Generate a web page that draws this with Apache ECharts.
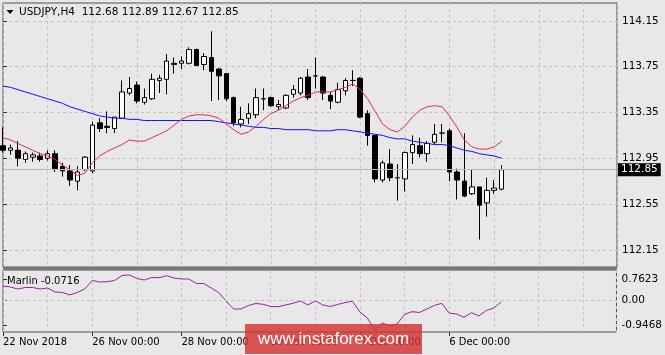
<!DOCTYPE html>
<html><head><meta charset="utf-8">
<script src="https://cdn.jsdelivr.net/npm/echarts@6/dist/echarts.min.js"></script>
<style>html,body{margin:0;padding:0;background:#e8e8e8;} #c{width:665px;height:355px;}</style>
</head><body><div id="c"></div>
<script>
const symbol = 'USDJPY,H4';
const open = [113.06,113.02,113.02,112.94,112.96,112.97,112.95,112.99,112.88,112.84,
  112.75,112.85,112.84,113.26,113.23,113.21,113.30,113.52,113.59,113.44,
  113.47,113.63,113.64,113.78,113.78,113.78,113.90,113.77,113.83,113.73,
  113.69,113.48,113.25,113.30,113.33,113.47,113.48,113.40,113.39,113.51,
  113.52,113.66,113.67,113.66,113.50,113.44,113.54,113.63,113.65,113.34,
  113.15,112.76,112.90,112.78,112.77,113.00,113.06,112.99,113.09,113.17,
  113.19,112.83,112.75,112.64,112.70,112.56,112.67,112.68];
const close = [113.02,113.04,112.95,112.99,112.98,112.94,112.99,112.86,112.84,112.76,
  112.83,112.96,113.24,113.21,113.22,113.31,113.53,113.56,113.45,113.48,
  113.64,113.65,113.80,113.77,113.80,113.90,113.76,113.84,113.71,113.67,
  113.47,113.26,113.29,113.34,113.48,113.47,113.41,113.42,113.50,113.55,
  113.65,113.48,113.67,113.52,113.45,113.55,113.63,113.63,113.31,113.15,
  112.77,112.91,112.78,112.78,113.00,113.07,112.99,113.08,113.16,113.17,
  112.83,112.76,112.62,112.70,112.54,112.67,112.69,112.85];
const high = [113.22,113.07,113.10,113.01,113.00,113.00,113.02,113.02,112.91,112.89,
  112.88,112.97,113.27,113.30,113.36,113.31,113.63,113.66,113.62,113.56,
  113.69,113.68,113.86,113.83,113.84,113.92,113.91,113.87,114.06,113.74,
  113.69,113.49,113.40,113.43,113.56,113.56,113.49,113.46,113.51,113.59,
  113.66,113.73,113.83,113.67,113.53,113.61,113.65,113.72,113.66,113.37,
  113.15,112.93,113.03,112.90,113.01,113.15,113.13,113.10,113.25,113.25,
  113.21,112.86,113.17,112.85,112.70,112.78,112.76,112.89];
const low = [113.00,112.98,112.88,112.91,112.92,112.92,112.93,112.83,112.79,112.71,
  112.67,112.84,112.82,113.18,113.17,113.17,113.30,113.50,113.43,113.42,
  113.46,113.52,113.51,113.69,113.73,113.77,113.76,113.72,113.45,113.46,
  113.45,113.23,113.22,113.25,113.30,113.37,113.40,113.37,113.38,113.48,
  113.50,113.46,113.56,113.46,113.38,113.43,113.50,113.58,113.30,113.06,
  112.74,112.74,112.75,112.58,112.66,112.90,112.96,112.92,113.07,113.09,
  112.75,112.59,112.61,112.63,112.24,112.44,112.64,112.67];
const maFast = [113.13,113.11,113.08,113.05,113.02,112.99,112.97,112.94,112.89,112.85,
  112.80,112.82,112.91,112.97,113.01,113.04,113.07,113.11,113.10,113.10,
  113.13,113.16,113.19,113.24,113.29,113.32,113.33,113.33,113.32,113.30,
  113.25,113.20,113.16,113.18,113.23,113.29,113.34,113.37,113.41,113.45,
  113.48,113.50,113.53,113.53,113.53,113.55,113.57,113.60,113.55,113.47,
  113.36,113.25,113.20,113.18,113.23,113.31,113.37,113.40,113.41,113.40,
  113.32,113.22,113.11,113.05,113.03,113.03,113.05,113.10];
const maSlow = [113.58,113.57,113.55,113.53,113.51,113.49,113.47,113.45,113.43,113.40,
  113.38,113.36,113.34,113.32,113.31,113.30,113.30,113.29,113.29,113.28,
  113.28,113.28,113.28,113.28,113.28,113.28,113.28,113.28,113.28,113.27,
  113.26,113.25,113.24,113.23,113.22,113.22,113.21,113.21,113.20,113.20,
  113.20,113.20,113.19,113.19,113.19,113.20,113.20,113.19,113.18,113.17,
  113.16,113.15,113.13,113.12,113.12,113.10,113.09,113.08,113.07,113.07,
  113.06,113.04,113.02,113.01,112.99,112.98,112.97,112.95];
const marlin = [0.506,0.470,0.396,0.451,0.451,0.396,0.433,0.287,0.268,0.177,
  0.268,0.396,0.708,0.653,0.664,0.708,0.891,0.909,0.781,0.726,
  0.817,0.810,0.883,0.799,0.762,0.762,0.598,0.598,0.433,0.268,
  -0.043,-0.336,-0.336,-0.208,-0.134,-0.164,-0.244,-0.251,-0.189,-0.127,
  -0.043,-0.189,-0.032,-0.189,-0.244,-0.171,-0.098,-0.054,-0.445,-0.665,
  -1.104,-0.848,-0.947,-0.885,-0.537,-0.434,-0.464,-0.336,-0.208,-0.127,
  -0.482,-0.519,-0.639,-0.471,-0.592,-0.391,-0.299,-0.0716];
const priceTicks = [112.15,112.55,112.95,113.35,113.75,114.15];
const marlinTicks = [-0.9468,0,0.7623];
const marlinTickLabels = ['-0.9468','0.00','0.7623'];
const timeTickIdx = [0,12,24,36,48,60];
const timeTickLabels = ['22 Nov 2018','26 Nov 00:00','28 Nov 00:00','30 Nov 00:00','4 Dec 00:00','6 Dec 00:00'];

const n = close.length - 1;
const FONT = 'DejaVu Sans';
const gridDash = {color:'#c4c4c4', type:[3,3], width:1};
function nearestIdx(arr, v){let b=0;for(let i=1;i<arr.length;i++){if(Math.abs(arr[i]-v)<Math.abs(arr[b]-v))b=i;}return b;}

const chart = echarts.init(document.getElementById('c'));
chart.setOption({
  animation:false,
  backgroundColor:'#e8e8e8',
  textStyle:{fontFamily:FONT},
  grid:[
    {left:3, top:3, width:614, height:264, show:true, borderColor:'#505050', borderWidth:1},
    {left:3, top:270, width:614, height:62, show:true, borderColor:'#505050', borderWidth:1}
  ],
  xAxis:[
    {type:'value', gridIndex:0, min:0, max:82.5, interval:6, axisLine:{show:false}, axisTick:{show:false}, axisLabel:{show:false}, splitLine:{show:true, lineStyle:gridDash}},
    {type:'value', gridIndex:1, min:0, max:82.5, interval:6, axisLine:{show:false}, axisTick:{show:false}, axisLabel:{show:false}, splitLine:{show:true, lineStyle:gridDash}},
    {type:'value', gridIndex:1, min:0, max:82.5, position:'bottom', axisLine:{show:false}, splitLine:{show:false},
      axisTick:{show:true, customValues:timeTickIdx, length:4, lineStyle:{color:'#303030'}},
      axisLabel:{customValues:timeTickIdx, formatter:v=>timeTickLabels[nearestIdx(timeTickIdx,v)], align:'left', margin:5, fontSize:10, color:'#000', fontFamily:FONT}}
  ],
  yAxis:[
    {type:'value', gridIndex:0, position:'right', min:112.0, max:114.307, axisLine:{show:false},
      axisTick:{show:true, customValues:priceTicks, length:4, lineStyle:{color:'#303030'}},
      axisLabel:{customValues:priceTicks, formatter:v=>priceTicks[nearestIdx(priceTicks,v)].toFixed(2), margin:5, fontSize:10.5, color:'#000', fontFamily:FONT},
      splitLine:{show:true, lineStyle:gridDash}},
    {type:'value', gridIndex:1, position:'right', min:-1.178, max:1.092, axisLine:{show:false},
      axisTick:{show:true, customValues:marlinTicks, length:4, lineStyle:{color:'#303030'}},
      axisLabel:{customValues:marlinTicks, formatter:v=>marlinTickLabels[nearestIdx(marlinTicks,v)], margin:5, fontSize:10.5, color:'#000', fontFamily:FONT},
      splitLine:{show:false}}
  ],
  series:[
    {type:'candlestick', xAxisIndex:0, yAxisIndex:0, barWidth:5,
      dimensions:['t','open','close','lowest','highest'],
      encode:{x:0, y:[1,2,3,4]},
      data:open.map((o,i)=>[i,o,close[i],low[i],high[i]]),
      itemStyle:{color:'#ffffff', color0:'#000000', borderColor:'#000000', borderColor0:'#000000', borderWidth:1}},
    {type:'line', xAxisIndex:0, yAxisIndex:0, symbol:'none', showSymbol:false,
      data:maSlow.map((v,i)=>[i,v]), lineStyle:{color:'#1010ff', width:1}},
    {type:'line', xAxisIndex:0, yAxisIndex:0, symbol:'none', showSymbol:false, clip:false,
      data:maFast.map((v,i)=>[i,v]), lineStyle:{color:'#e4285a', width:1},
      markLine:{symbol:['none','none'], silent:true, animation:false,
        data:[{yAxis:close[n]}],
        lineStyle:{color:'#b8b8b8', type:'solid', width:1},
        label:{show:true, position:'end', formatter:close[n].toFixed(2), color:'#fff', backgroundColor:'#000',
          padding:[1,3,1,3], fontSize:10.5, fontFamily:FONT, distance:1}}},
    {type:'line', xAxisIndex:1, yAxisIndex:1, symbol:'none', showSymbol:false,
      data:marlin.map((v,i)=>[i,v]), lineStyle:{color:'#a01ca8', width:1},
      markLine:{symbol:['none','none'], silent:true, animation:false, data:[{yAxis:0}],
        lineStyle:gridDash, label:{show:false}}}
  ],
  graphic:[
    {type:'rect', shape:{x:3, y:267, width:614, height:3}, style:{fill:'#787878'}, z:50, silent:true},
    {type:'polygon', shape:{points:[[6.5,10],[13.5,10],[10,14]]}, style:{fill:'#000'}, z:60, silent:true},
    {type:'text', x:19, y:12, style:{text:`${symbol}  ${open[n].toFixed(2)} ${high[n].toFixed(2)} ${low[n].toFixed(2)} ${close[n].toFixed(2)}`,
      font:`10.5px "${FONT}"`, fill:'#000', verticalAlign:'middle'}, z:60, silent:true},
    {type:'text', x:7, y:281, style:{text:`Marlin ${marlin[n].toFixed(4)}`, font:`10px "${FONT}"`, fill:'#000', verticalAlign:'middle'}, z:60, silent:true},
    {type:'rect', shape:{x:245, y:324, width:177, height:30}, style:{fill:'rgba(214,50,50,0.82)'}, z:100, silent:true},
    {type:'text', x:333.5, y:339.5, style:{text:'www.instaforex.com', font:'17px "Liberation Sans"', fill:'#fff', align:'center', verticalAlign:'middle'}, z:101, silent:true}
  ]
});
</script></body></html>
